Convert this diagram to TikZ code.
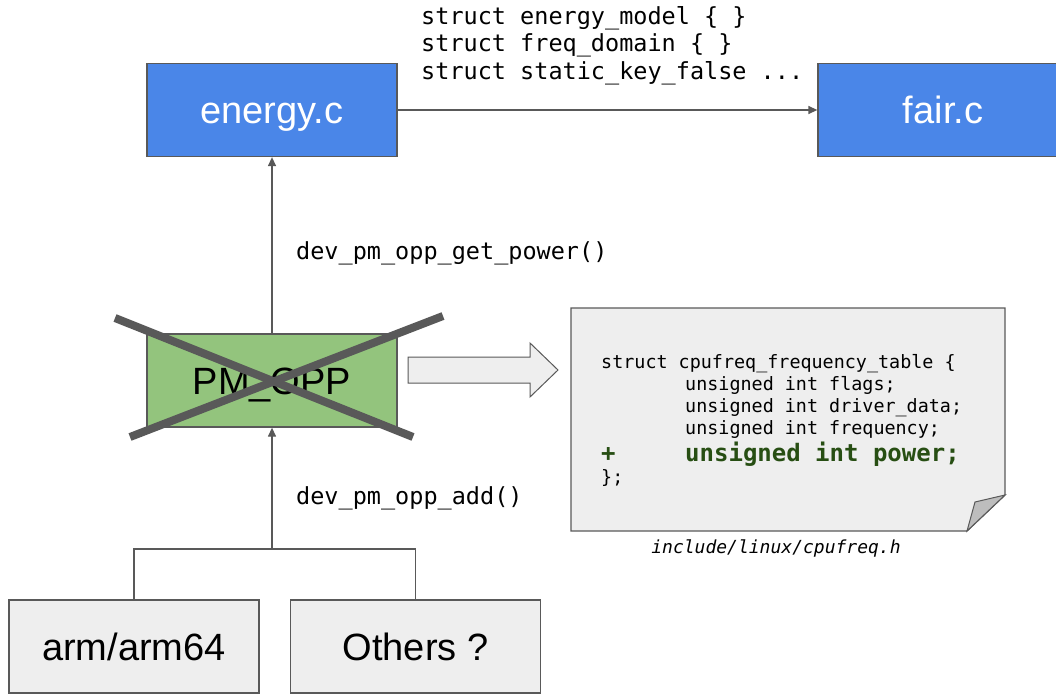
\documentclass[tikz,border=0pt]{standalone}
\usepackage{fontspec}
\setmainfont{Liberation Sans}
\newfontfamily\codefont{DejaVu Sans Mono}
\usetikzlibrary{arrows.meta}
\definecolor{boxblue}{HTML}{4A86E8}
\definecolor{boxgreen}{HTML}{93C47D}
\definecolor{lightgray}{HTML}{EEEEEE}
\definecolor{foldgray}{HTML}{BDBDBD}
\definecolor{linegray}{HTML}{595959}
\definecolor{codegreen}{HTML}{274E13}
\tikzset{
  x=1pt, y=-1pt,
  box/.style={draw=linegray, line width=1.3pt, minimum width=250pt, minimum height=93pt, inner sep=0pt, text height=30pt, text depth=2pt, font=\fontsize{38}{42}\selectfont},
  bluebox/.style={box, fill=boxblue, text=white},
  greenbox/.style={box, fill=boxgreen, text=black},
  graybox/.style={box, fill=lightgray, text=black},
  conn/.style={draw=linegray, line width=1.3pt},
  arr/.style={conn, -{Triangle[length=9pt,width=8pt]}},
  lbl/.style={anchor=base west, inner sep=0pt, font=\codefont\fontsize{23.5}{28}\selectfont},
  code/.style={anchor=base west, inner sep=0pt, font=\codefont\fontsize{18.4}{22}\selectfont},
  codebold/.style={anchor=base west, inner sep=0pt, text=codegreen, font=\codefont\bfseries\fontsize{24}{28}\selectfont},
  cross/.style={draw=linegray, line width=8pt},
}
\begin{document}
\begin{tikzpicture}
\useasboundingbox (0,0) rectangle (1056,695);
\begin{scope}
\clip (0,0) rectangle (1056,695);
% boxes
\node[bluebox] (energy) at (272,110) {energy.c};
\node[bluebox] (fair) at (943,110) {fair.c};
\node[greenbox] (pm) at (272,380.5) {PM\_OPP};
\node[graybox] (arm) at (134,646.5) {arm/arm64};
\node[graybox] (others) at (415.5,646.5) {Others ?};
\end{scope}
% top labels
\node[lbl] (s1) at (421,25) {struct energy\_model \{ \}};
\node[lbl] (s2) at (421,52) {struct freq\_domain \{ \}};
\node[lbl] (s3) at (421,80) {struct static\_key\_false ...};
% connectors
\draw[arr] (energy.east) -- (fair.west);
\draw[arr] (pm.north) -- (energy.south);
\node[lbl] (getpower) at (296,259) {dev\_pm\_opp\_get\_power()};
\coordinate (j) at (272,549);
\draw[conn] (arm.north) |- (j) -| (others.north);
\draw[arr] (j) -- (pm.south);
\node[lbl] (add) at (296,504) {dev\_pm\_opp\_add()};
% cross over PM_OPP
\draw[cross] (115,318) -- (413,437);
\draw[cross] (130,437) -- (443,316);
% block arrow
\draw[draw=linegray, line width=1pt, fill=lightgray]
  (408,357) -- (530,357) -- (530,343) -- (558,370) -- (530,397) -- (530,383) -- (408,383) -- cycle;
% note
\draw[draw=linegray, line width=1.3pt, fill=lightgray]
  (571,308) -- (1005,308) -- (1005,495) -- (967,531) -- (571,531) -- cycle;
\draw[draw=linegray, line width=1pt, fill=foldgray]
  (967,531) -- (975,502) -- (1005,495) -- cycle;
\node[code] (c1) at (601,368) {struct cpufreq\_frequency\_table \{};
\node[code] (c2) at (685,390) {unsigned int flags;};
\node[code] (c3) at (685,412) {unsigned int driver\_data;};
\node[code] (c4) at (685,434) {unsigned int frequency;};
\node[codebold] (c5p) at (601,461) {+};
\node[codebold] (c5) at (685,461) {unsigned int power;};
\node[code] (c6) at (601,483) {\};};
\node[anchor=base, inner sep=0pt, font=\codefont\itshape\fontsize{18}{22}\selectfont] (cap) at (776,553) {include/linux/cpufreq.h};
\end{tikzpicture}
\end{document}
